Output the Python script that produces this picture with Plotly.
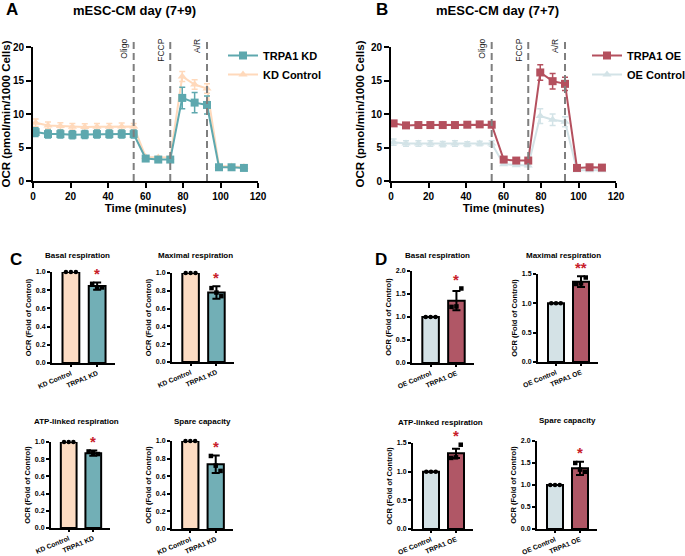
import plotly.graph_objects as go

W, H = 685, 556
FONT = "Liberation Sans"

# ---------------- Panel A / B : Seahorse OCR time courses ----------------
time_min = [1.4, 8.0, 14.6, 21.0, 27.6, 34.1, 40.7, 47.3, 53.7,
            60.1, 66.8, 73.2, 79.6, 86.2, 92.8, 99.2, 105.9, 112.5]
injection_times = [53.7, 73.2, 92.8]
injection_labels = ["Oligo", "FCCP", "A/R"]

kd_ocr = [7.3, 7.0, 7.0, 6.9, 6.95, 7.0, 7.0, 7.0, 7.0,
          3.35, 3.2, 3.2, 12.4, 11.7, 11.35, 2.05, 2.05, 1.95]
kd_sd = [0.65, 0.6, 0.6, 0.6, 0.6, 0.6, 0.6, 0.6, 0.6,
         0.2, 0.2, 0.2, 1.6, 1.5, 1.35, 0.15, 0.15, 0.15]
kdctrl_ocr = [8.7, 8.3, 8.2, 8.1, 8.05, 8.1, 8.1, 8.15, 8.15,
              3.6, 3.5, 3.5, 15.6, 14.4, 13.8, 2.25, 2.15, 2.1]
kdctrl_sd = [0.55, 0.5, 0.5, 0.5, 0.5, 0.5, 0.5, 0.5, 0.45,
             0.15, 0.15, 0.15, 0.75, 0.7, 0.7, 0.15, 0.15, 0.15]

oe_ocr = [8.6, 8.3, 8.35, 8.35, 8.35, 8.35, 8.4, 8.45, 8.4,
          3.2, 3.05, 3.05, 16.2, 14.9, 14.5, 1.95, 2.05, 2.0]
oe_sd = [0.25, 0.2, 0.2, 0.2, 0.2, 0.2, 0.2, 0.2, 0.25,
         0.2, 0.15, 0.15, 1.15, 1.15, 1.0, 0.15, 0.15, 0.15]
oectrl_ocr = [5.8, 5.6, 5.6, 5.6, 5.5, 5.6, 5.5, 5.6, 5.6,
              2.5, 2.35, 2.3, 9.7, 9.15, 8.85, 1.6, 1.6, 1.6]
oectrl_sd = [0.45, 0.4, 0.4, 0.4, 0.4, 0.4, 0.35, 0.35, 0.4,
             0.15, 0.15, 0.15, 1.1, 0.85, 0.75, 0.15, 0.15, 0.15]

# ---------------- Panel C / D : fold of control bar charts ----------------
metric_titles = ["Basal respiration", "Maximal respiration",
                 "ATP-linked respiration", "Spare capacity"]
kd_categories = ["KD Control", "TRPA1 KD"]
oe_categories = ["OE Control", "TRPA1 OE"]

control_points = [1.0, 1.0, 1.0]
control_mean = 1.0

kd_basal_pts = [0.87, 0.83, 0.83]
kd_max_pts = [0.83, 0.78, 0.74]
kd_atp_pts = [0.89, 0.87, 0.86]
kd_spare_pts = [0.83, 0.72, 0.66]
kd_means = [0.845, 0.78, 0.87, 0.735]
kd_errs = [0.04, 0.07, 0.03, 0.10]
kd_sig = ["*", "*", "*", "*"]

oe_basal_pts = [1.22, 1.23, 1.62]
oe_max_pts = [1.33, 1.34, 1.44]
oe_atp_pts = [1.24, 1.25, 1.47]
oe_spare_pts = [1.50, 1.35, 1.30]
oe_means = [1.355, 1.37, 1.32, 1.38]
oe_errs = [0.21, 0.09, 0.08, 0.15]
oe_sig = ["*", "**", "*", "*"]

# colours
C_KD = "#5ea8ae"
C_KD_BAR = "#72afb6"
C_KDCTRL = "#ffd9bb"
C_KDCTRL_BAR = "#fddcc3"
C_OE = "#b4505e"
C_OE_BAR = "#b05766"
C_OECTRL = "#d3e3e7"
C_OECTRL_BAR = "#d4e2e6"
C_SIG = "#c8202a"

# subplot geometry in pixels: (left, right), (top, bottom)
boxes = {
    1: ((33, 258), (47, 181)),
    2: ((391, 616), (47, 181)),
    3: ((52, 115), (272, 363)),
    4: ((172, 234), (273, 362)),
    5: ((51, 110), (442, 528)),
    6: ((172, 233), (441, 529)),
    7: ((412, 474), (271, 363)),
    8: ((538, 598), (274, 362)),
    9: ((413, 473), (443, 529)),
    10: ((537, 597), (441, 529)),
}


def px_x(x):
    return x / W


def px_y(y):
    return 1 - y / H


fig = go.Figure()

axis_base = dict(showline=True, linecolor="black", linewidth=2, ticks="outside",
                 tickcolor="black", tickwidth=2, showgrid=False, zeroline=False,
                 mirror=False, automargin=False)

layout = dict(width=W, height=H,
              margin=dict(l=0, r=0, t=0, b=0, pad=0, autoexpand=False),
              paper_bgcolor="white", plot_bgcolor="white",
              font=dict(family=FONT, color="black"), showlegend=True)

for i, ((l, r), (t, b)) in boxes.items():
    sx = "" if i == 1 else str(i)
    layout["xaxis" + sx] = dict(axis_base, domain=[px_x(l), px_x(r)], anchor="y" + sx)
    layout["yaxis" + sx] = dict(axis_base, domain=[px_y(b), px_y(t)], anchor="x" + sx)

# ---- line panels ----
tfont = dict(family=FONT, size=10, color="black", weight="bold")
for i in (1, 2):
    sx = "" if i == 1 else str(i)
    layout["xaxis" + sx].update(range=[0, 120], dtick=20, tick0=0, ticklen=5,
                                tickfont=tfont,
                                title=dict(text="Time (minutes)", standoff=0,
                                           font=dict(family=FONT, size=11.5, weight="bold")))
    layout["yaxis" + sx].update(range=[0, 20], dtick=5, tick0=0, ticklen=5,
                                tickfont=tfont,
                                title=dict(text="OCR (pmol/min/1000 Cells)", standoff=4,
                                           font=dict(family=FONT, size=11.5, weight="bold")))


def line_trace(y, err, color, symbol, size, name, ax, legend, rank):
    return go.Scatter(
        x=time_min, y=y, name=name, mode="lines+markers",
        line=dict(color=color, width=2),
        marker=dict(symbol=symbol, size=size, color=color),
        error_y=dict(type="data", array=err, color=color, thickness=1.5, width=3),
        xaxis="x" + ax, yaxis="y" + ax, legend=legend, legendrank=rank,
        cliponaxis=False)


fig.add_trace(line_trace(kdctrl_ocr, kdctrl_sd, C_KDCTRL, "triangle-up", 8, "KD Control", "", "legend", 2))
fig.add_trace(line_trace(kd_ocr, kd_sd, C_KD, "square", 8, "TRPA1 KD", "", "legend", 1))
fig.add_trace(line_trace(oectrl_ocr, oectrl_sd, C_OECTRL, "triangle-up", 8, "OE Control", "2", "legend2", 2))
fig.add_trace(line_trace(oe_ocr, oe_sd, C_OE, "square", 8, "TRPA1 OE", "2", "legend2", 1))

shapes = []
annotations = []
for i in (1, 2):
    (l, r), (t, b) = boxes[i]
    for tm, lab in zip(injection_times, injection_labels):
        xp = px_x(l + (tm - 0) / 120 * (r - l))
        shapes.append(dict(type="line", xref="paper", yref="paper", x0=xp, x1=xp,
                           y0=px_y(b), y1=px_y(38),
                           line=dict(color="#7f7f7f", width=2, dash="7px,4px")))
        annotations.append(dict(text=lab, xref="paper", yref="paper", x=xp, y=px_y(37),
                                xanchor="right", yanchor="top", xshift=-3, textangle=-90,
                                showarrow=False,
                                font=dict(family=FONT, size=8.5, color="#222222")))

legend_font = dict(family=FONT, size=11, color="black", weight="bold")
layout["legend"] = dict(x=px_x(223), y=px_y(41), xanchor="left", yanchor="top",
                        bgcolor="rgba(0,0,0,0)", font=legend_font, tracegroupgap=0)
layout["legend2"] = dict(x=px_x(587), y=px_y(41), xanchor="left", yanchor="top",
                         bgcolor="rgba(0,0,0,0)", font=legend_font, tracegroupgap=0)

# ---- bar panels ----
kd_pts = [kd_basal_pts, kd_max_pts, kd_atp_pts, kd_spare_pts]
oe_pts = [oe_basal_pts, oe_max_pts, oe_atp_pts, oe_spare_pts]
bar_specs = [
    (3, kd_categories, kd_pts[0], kd_means[0], kd_errs[0], kd_sig[0], C_KDCTRL_BAR, C_KD_BAR, 1.0, 0.2),
    (4, kd_categories, kd_pts[1], kd_means[1], kd_errs[1], kd_sig[1], C_KDCTRL_BAR, C_KD_BAR, 1.0, 0.2),
    (5, kd_categories, kd_pts[2], kd_means[2], kd_errs[2], kd_sig[2], C_KDCTRL_BAR, C_KD_BAR, 1.0, 0.2),
    (6, kd_categories, kd_pts[3], kd_means[3], kd_errs[3], kd_sig[3], C_KDCTRL_BAR, C_KD_BAR, 1.0, 0.2),
    (7, oe_categories, oe_pts[0], oe_means[0], oe_errs[0], oe_sig[0], C_OECTRL_BAR, C_OE_BAR, 2.0, 0.5),
    (8, oe_categories, oe_pts[1], oe_means[1], oe_errs[1], oe_sig[1], C_OECTRL_BAR, C_OE_BAR, 1.5, 0.5),
    (9, oe_categories, oe_pts[2], oe_means[2], oe_errs[2], oe_sig[2], C_OECTRL_BAR, C_OE_BAR, 1.5, 0.5),
    (10, oe_categories, oe_pts[3], oe_means[3], oe_errs[3], oe_sig[3], C_OECTRL_BAR, C_OE_BAR, 2.0, 0.5),
]
title_pos = {3: (77, 255), 4: (196, 255), 5: (76, 421), 6: (202, 421),
             7: (437, 255), 8: (563, 255), 9: (440, 422), 10: (567, 420)}
small_tick = dict(family=FONT, size=7, color="black", weight="bold")
xcat_tick = dict(family=FONT, size=6.8, color="black", weight="bold")
jitter = [-0.19, 0.0, 0.19]

for k, (ax, cats, pts, mean, err, sig, cc, tc, ymax, dt) in enumerate(bar_specs):
    sx = str(ax)
    fig.add_trace(go.Bar(
        x=[0, 1], y=[control_mean, mean], width=0.64,
        marker=dict(color=[cc, tc], line=dict(color="black", width=2)),
        error_y=dict(type="data", array=[0, err], color="black", thickness=2, width=4),
        xaxis="x" + sx, yaxis="y" + sx, showlegend=False))
    fig.add_trace(go.Scatter(
        x=[j for j in jitter], y=control_points, mode="markers",
        marker=dict(symbol="circle", size=4.5, color="black"),
        xaxis="x" + sx, yaxis="y" + sx, showlegend=False, cliponaxis=False))
    fig.add_trace(go.Scatter(
        x=[1 + j for j in jitter], y=pts, mode="markers",
        marker=dict(symbol="square", size=4.5, color="black"),
        xaxis="x" + sx, yaxis="y" + sx, showlegend=False, cliponaxis=False))
    layout["xaxis" + sx].update(range=[-0.72, 1.68], tickvals=[0, 1], ticktext=cats,
                                tickangle=-23, ticklen=2, tickfont=xcat_tick)
    layout["yaxis" + sx].update(range=[0, ymax], dtick=dt, tick0=0, ticklen=3,
                                tickformat=".1f", tickfont=small_tick,
                                title=dict(text="OCR (Fold of Control)", standoff=3,
                                           font=dict(family=FONT, size=7.5, weight="bold")))
    top = max(mean + err, max(pts))
    annotations.append(dict(text=sig, xref="x" + sx, yref="y" + sx, x=1, y=top,
                            yanchor="middle", yshift=9, showarrow=False,
                            font=dict(family=FONT, size=15, color=C_SIG, weight="bold")))
    tx, ty = title_pos[ax]
    annotations.append(dict(text=metric_titles[k % 4], xref="paper", yref="paper",
                            x=px_x(tx), y=px_y(ty), xanchor="center", yanchor="middle",
                            showarrow=False,
                            font=dict(family=FONT, size=8, color="black", weight="bold")))

# panel letters & titles
for txt, x, y in [("A", 12, 9), ("B", 382, 9), ("C", 16, 259), ("D", 381, 259)]:
    annotations.append(dict(text=txt, xref="paper", yref="paper", x=px_x(x), y=px_y(y),
                            xanchor="center", yanchor="middle", showarrow=False,
                            font=dict(family=FONT, size=17, color="black", weight="bold")))
for txt, x in [("mESC-CM day (7+9)", 134), ("mESC-CM day (7+7)", 497)]:
    annotations.append(dict(text=txt, xref="paper", yref="paper", x=px_x(x), y=px_y(10),
                            xanchor="center", yanchor="middle", showarrow=False,
                            font=dict(family=FONT, size=13, color="black", weight="bold")))

layout["shapes"] = shapes
layout["annotations"] = annotations
fig.update_layout(**layout)
fig.write_html("out.html", config={"displayModeBar": False},
               post_script="document.body.style.margin='0';document.body.style.padding='0';")
